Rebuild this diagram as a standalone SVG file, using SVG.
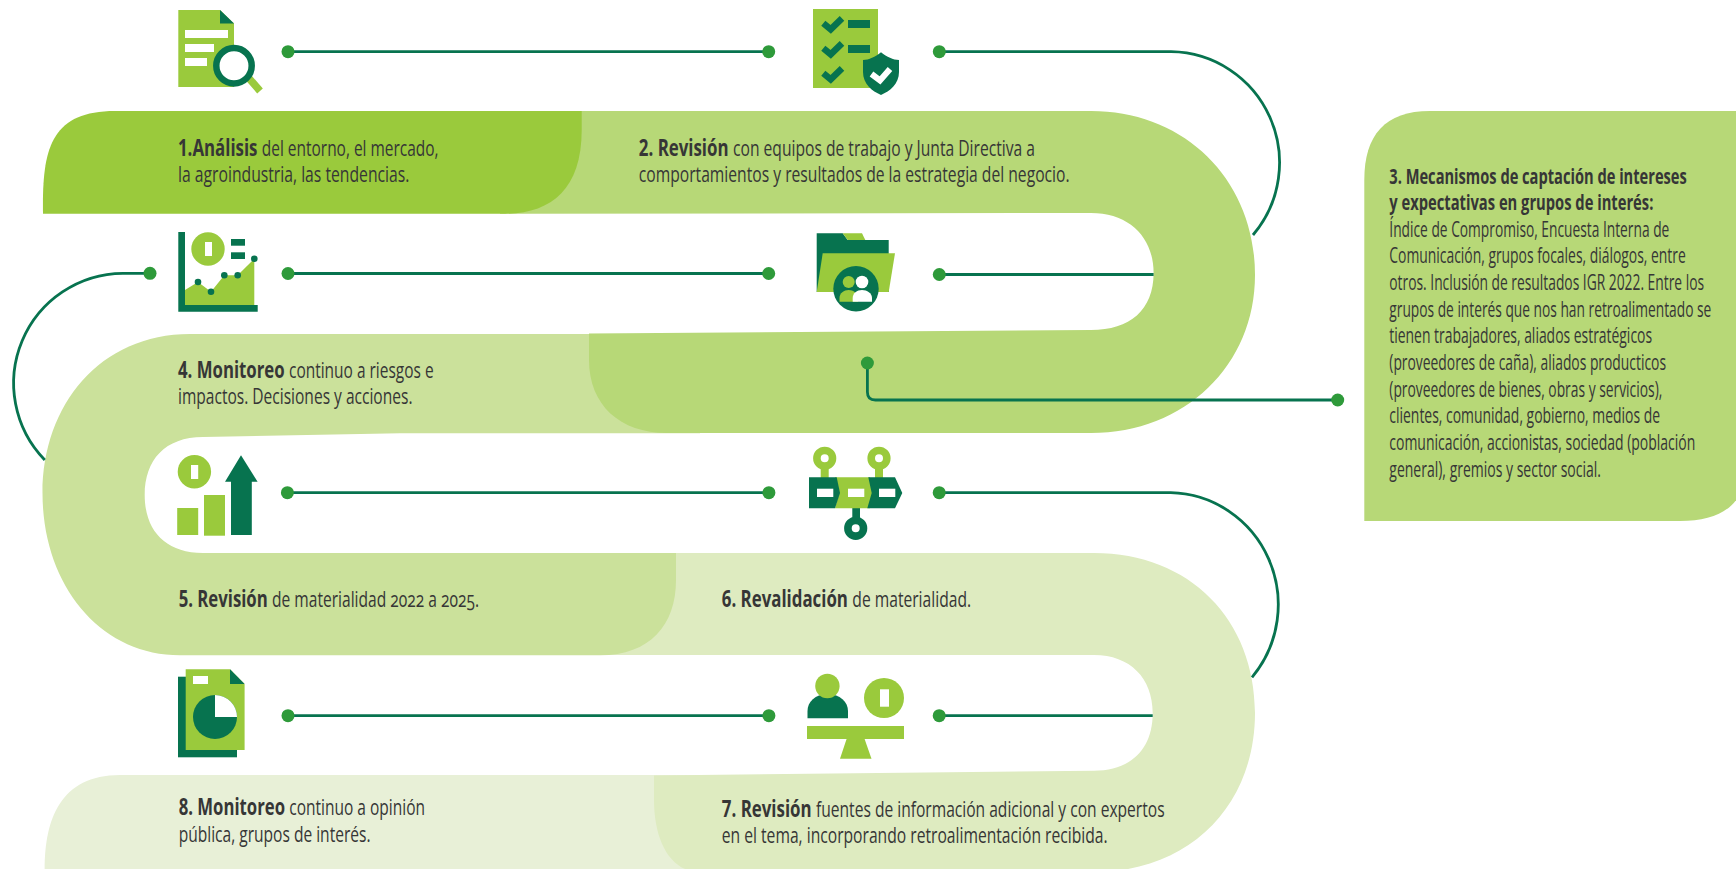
<svg xmlns="http://www.w3.org/2000/svg" width="1736" height="869" viewBox="0 0 1736 869">
<style>
.t{font-family:"Open Sans","Noto Sans","Liberation Sans",sans-serif;font-size:22.5px;fill:#363636;transform:scale(.72,1);transform-origin:0 0}
.p{font-size:21px}
.b{font-weight:700}
.o{font-variant-numeric:oldstyle-nums}
.c{fill:none;stroke:#07734f;stroke-width:2.8}
.d{fill:#2e9a3a}
.lg{fill:#9aca3c}
.dg{fill:#07734f}
.w{fill:#fff}
</style>
<rect width="1736" height="869" fill="#fff"/>
<g id="bands">
<path id="band8" fill="#e8f0d7" d="M44.6,869C44.6,820 60,775 120,775H700V869Z"/>
<path id="band6" fill="#deebc0" d="M590,553H1094C1190,553 1255,620 1255,713C1255,805 1190,872 1094,872H700C670,872 654,840 654,800V775.5L1094,770.7C1130,770.7 1152.7,750 1152.7,713C1152.7,678 1130,655 1094,655H590Z"/>
<path id="band4" fill="#cbe19b" d="M700,334H190C100,334 42.5,405 42.5,493C42.5,585 100,655.3 180,655.3H600C650,655.3 676,625 676,580V553H203C165,553 144.7,530 144.7,495C144.7,460 165,437 203,437L400,433.3H700Z"/>
<path id="band2" fill="#b7d877" d="M500,111H1091C1185,111 1255,180 1255,275C1255,365 1185,433 1091,433H667C620,433 589,405 589,360V333.5L1091,330C1130,330 1153.6,310 1153.6,273C1153.6,238 1130,213 1091,213L500,213.7Z"/>
<path id="band1" class="lg" d="M43,213.7C42,150 50,111 115,111H581.7V130C581.7,190 550,213.7 505,213.7Z"/>
</g>
<g id="connectors">
<path class="c" d="M288,51.7H768.7"/>
<path class="c" d="M939.3,51.7H1171A110,111 0 0 1 1253,235"/>
<path class="c" d="M288,273.5H768.7"/>
<path class="c" d="M150,273.3H123A110,110 0 0 0 44.8,460"/>
<path class="c" d="M939.3,274.5H1153.6"/>
<path class="c" d="M867.4,363V392Q867.4,400 875.4,400H1337.7"/>
<path class="c" d="M287.4,492.7H768.9"/>
<path class="c" d="M939.2,492.7H1170.7A110,112 0 0 1 1252,677.3"/>
<path class="c" d="M288,715.7H768.9"/>
<path class="c" d="M939.2,715.7H1152.7"/>
<circle class="d" cx="288" cy="51.7" r="6.5"/><circle class="d" cx="768.7" cy="51.7" r="6.5"/><circle class="d" cx="939.3" cy="51.7" r="6.5"/>
<circle class="d" cx="150" cy="273.3" r="6.5"/><circle class="d" cx="288" cy="273.5" r="6.5"/><circle class="d" cx="768.7" cy="273.5" r="6.5"/><circle class="d" cx="939.3" cy="274.5" r="6.5"/>
<circle class="d" cx="867.4" cy="363" r="6.5"/><circle class="d" cx="1337.7" cy="400" r="6.5"/>
<circle class="d" cx="287.4" cy="492.7" r="6.5"/><circle class="d" cx="768.9" cy="492.7" r="6.5"/><circle class="d" cx="939.2" cy="492.7" r="6.5"/>
<circle class="d" cx="288" cy="715.7" r="6.5"/><circle class="d" cx="768.9" cy="715.7" r="6.5"/><circle class="d" cx="939.2" cy="715.7" r="6.5"/>
</g>
<g id="node1">
<path class="lg" d="M178.3,10H220L234,23.5V87H178.3Z"/>
<path class="dg" d="M220,10L234,23.5H220Z"/>
<rect class="w" x="185" y="30" width="43" height="8"/><rect class="w" x="185" y="44" width="29" height="8"/><rect class="w" x="185" y="58" width="22" height="8"/>
<path d="M247,76L260,91" stroke="#9aca3c" stroke-width="7.5" fill="none"/>
<circle cx="234" cy="65.7" r="17.7" fill="#fff" stroke="#07734f" stroke-width="6.5"/>
<text class="t" y="156"><tspan class="b" x="247.2" textLength="116.4" lengthAdjust="spacingAndGlyphs">1.Análisis </tspan><tspan x="363.6" textLength="245.6" lengthAdjust="spacingAndGlyphs">del entorno, el mercado,</tspan></text>
<text class="t" x="247.2" y="182" textLength="321.5" lengthAdjust="spacingAndGlyphs">la agroindustria, las tendencias.</text>
</g>
<g id="node2">
<rect class="lg" x="813" y="9" width="65" height="79"/>
<g fill="none" stroke="#07734f" stroke-width="6.5"><path d="M823.3,23.3L830.7,29.3L842,18.3"/><path d="M823.3,48.3L830.7,54.3L842,43.3"/><path d="M823.3,73.3L830.7,79.3L842,68.3"/></g>
<rect class="dg" x="848" y="20" width="22" height="8"/><rect class="dg" x="848" y="45" width="22" height="8"/>
<path class="dg" d="M881,52.3C875,57 869,60 863,60V72C863,84 872,91 881,95C890,91 899,84 899,72V60C893,60 887,57 881,52.3Z"/>
<path d="M871.5,74L880,80.5L890,69" fill="none" stroke="#fff" stroke-width="6"/>
<text class="t" y="156"><tspan class="b" x="887.2" textLength="130.8" lengthAdjust="spacingAndGlyphs">2. Revisión </tspan><tspan x="1018.1" textLength="419.4" lengthAdjust="spacingAndGlyphs">con equipos de trabajo y Junta Directiva a</tspan></text>
<text class="t" x="887.2" y="182" textLength="598.3" lengthAdjust="spacingAndGlyphs">comportamientos y resultados de la estrategia del negocio.</text>
</g>
<g id="node3">
<path fill="#b7d877" d="M1364.3,521V180C1364.3,135 1385,111 1430,111H1745V470C1745,505 1720,521 1680,521Z"/>
<text class="t p b" x="1929.6" y="184" textLength="413.1" lengthAdjust="spacingAndGlyphs">3. Mecanismos de captación de intereses</text>
<text class="t p b" x="1929.6" y="210" textLength="366.7" lengthAdjust="spacingAndGlyphs">y expectativas en grupos de interés:</text>
<text class="t p" x="1929.6" y="237" textLength="388.9" lengthAdjust="spacingAndGlyphs">Índice de Compromiso, Encuesta Interna de</text>
<text class="t p" x="1929.6" y="263.5" textLength="411.7" lengthAdjust="spacingAndGlyphs">Comunicación, grupos focales, diálogos, entre</text>
<text class="t p" x="1929.6" y="290" textLength="437.1" lengthAdjust="spacingAndGlyphs">otros. Inclusión de resultados IGR 2022. Entre los</text>
<text class="t p" x="1929.6" y="316.7" textLength="447.2" lengthAdjust="spacingAndGlyphs">grupos de interés que nos han retroalimentado se</text>
<text class="t p" x="1929.6" y="343.3" textLength="364.9" lengthAdjust="spacingAndGlyphs">tienen trabajadores, aliados estratégicos</text>
<text class="t p" x="1929.6" y="370" textLength="384.3" lengthAdjust="spacingAndGlyphs">(proveedores de caña), aliados producticos</text>
<text class="t p" x="1929.6" y="396.7" textLength="379.2" lengthAdjust="spacingAndGlyphs">(proveedores de bienes, obras y servicios),</text>
<text class="t p" x="1929.6" y="423.3" textLength="376" lengthAdjust="spacingAndGlyphs">clientes, comunidad, gobierno, medios de</text>
<text class="t p" x="1929.6" y="450" textLength="425" lengthAdjust="spacingAndGlyphs">comunicación, accionistas, sociedad (población</text>
<text class="t p" x="1929.6" y="476.7" textLength="294" lengthAdjust="spacingAndGlyphs">general), gremios y sector social.</text>
</g>
<g id="node4">
<path class="lg" d="M185,290L198,282L211,291.7L224.3,275.3H237.7L254.3,258.7V305H185Z"/>
<path class="dg" d="M178.3,232H185V305H257.7V311.7H178.3Z"/>
<circle class="lg" cx="208" cy="249" r="16.7"/><rect class="w" x="205" y="242" width="7" height="14"/>
<rect class="dg" x="231" y="239" width="14" height="6.7"/><rect class="dg" x="231" y="252.3" width="14" height="6.7"/>
<g class="dg"><circle cx="198" cy="282" r="3.3"/><circle cx="211" cy="291.7" r="3.3"/><circle cx="224.3" cy="275.3" r="3.3"/><circle cx="237.7" cy="275.3" r="3.3"/><circle cx="254.3" cy="258.7" r="3.3"/></g>
<text class="t" y="377.7"><tspan class="b" x="247.2" textLength="154.2" lengthAdjust="spacingAndGlyphs">4. Monitoreo </tspan><tspan x="401.4" textLength="200.8" lengthAdjust="spacingAndGlyphs">continuo a riesgos e</tspan></text>
<text class="t" x="247.2" y="404.3" textLength="325.7" lengthAdjust="spacingAndGlyphs">impactos. Decisiones y acciones.</text>
</g>
<g id="node4b">
<path class="dg" d="M816.7,292V233.3H842.7L847.7,240H888.7V292Z"/>
<path class="lg" d="M842.7,233.3H862L865.3,240H847.7Z"/>
<path class="lg" d="M822.7,253.3H895L888.7,292H816.7Z"/>
<circle class="dg" cx="856" cy="288.7" r="22.7"/>
<circle class="lg" cx="848.7" cy="282" r="6"/>
<path class="lg" d="M839.5,301.7V298C839.5,293 844,290 848.7,290C853,290 858,293 858,298V301.7Z"/>
<circle class="w" cx="862" cy="282" r="6.3"/>
<path class="w" d="M852.7,301.7V298C852.7,293 857,290 862,290C867,290 872,293 872,298V301.7Z"/>
</g>
<g id="node5">
<circle class="lg" cx="194.4" cy="471.7" r="16.7"/><rect class="w" x="191" y="465" width="7.2" height="14"/>
<rect class="lg" x="177.2" y="508" width="21" height="27"/><rect class="lg" x="204" y="495" width="21" height="40.7"/>
<path class="dg" d="M241,455.3L257.6,481.7H251.8V535H231V481.7H225Z"/>
<text class="t" y="606.7"><tspan class="b" x="248.1" textLength="129.7" lengthAdjust="spacingAndGlyphs">5. Revisión </tspan><tspan class="o" x="377.8" textLength="287.5" lengthAdjust="spacingAndGlyphs">de materialidad 2022 a 2025.</tspan></text>
</g>
<g id="node6">
<path class="lg" d="M820.7,464H828.7V480H820.7ZM875,464H883V480H875Z"/>
<circle cx="824.7" cy="458.3" r="7.8" fill="#fff" stroke="#9aca3c" stroke-width="7.6"/>
<circle cx="879" cy="458.3" r="7.8" fill="#fff" stroke="#9aca3c" stroke-width="7.6"/>
<rect class="dg" x="852.3" y="507" width="7.7" height="16"/>
<circle cx="855.7" cy="528.3" r="7.8" fill="#fff" stroke="#07734f" stroke-width="7.6"/>
<path class="lg" d="M835,477.3H870L873.5,493L870,508.3H835L839,493Z"/>
<path class="dg" d="M809,477.3H836.7L840,493L835,508.3H809Z"/>
<path class="dg" d="M868.3,477.3H895L902.3,493L895,508.3H867.3L871.7,493Z"/>
<rect class="w" x="817" y="488.7" width="16.3" height="8.3"/><rect class="w" x="848" y="488.7" width="16.3" height="8.3"/><rect class="w" x="879" y="488.7" width="16.3" height="8.3"/>
<text class="t" y="606.7"><tspan class="b" x="1002.5" textLength="181.3" lengthAdjust="spacingAndGlyphs">6. Revalidación </tspan><tspan x="1183.8" textLength="164.9" lengthAdjust="spacingAndGlyphs">de materialidad.</tspan></text>
</g>
<g id="node7">
<path class="dg" d="M807.5,718.3V711C807.5,702 815,694 827.7,694C840,694 848,702 848,711V718.3Z"/>
<circle class="lg" cx="827.4" cy="686" r="12.2"/>
<circle class="lg" cx="884" cy="698" r="20"/><rect class="w" x="880" y="689.3" width="9" height="17.4"/>
<rect class="lg" x="807" y="726" width="97" height="13"/>
<path class="lg" d="M846.6,739H864.6L871.5,758.7H840Z"/>
<text class="t" y="816.7"><tspan class="b" x="1002.5" textLength="130.8" lengthAdjust="spacingAndGlyphs">7. Revisión </tspan><tspan x="1133.3" textLength="484.2" lengthAdjust="spacingAndGlyphs">fuentes de información adicional y con expertos</tspan></text>
<text class="t" x="1002.5" y="842.7" textLength="535.8" lengthAdjust="spacingAndGlyphs">en el tema, incorporando retroalimentación recibida.</text>
</g>
<g id="node8">
<rect class="dg" x="178" y="676.7" width="59" height="80.6"/>
<path class="lg" d="M185.7,669.3H230L244.6,684V750H185.7Z"/>
<path class="dg" d="M230,669.3L244.6,684H230Z"/>
<rect class="w" x="193" y="676" width="15" height="8"/>
<circle class="dg" cx="215" cy="717" r="22"/>
<path class="w" d="M215,717V695A22,22 0 0 1 237,717Z"/>
<text class="t" y="815"><tspan class="b" x="248.1" textLength="153.8" lengthAdjust="spacingAndGlyphs">8. Monitoreo </tspan><tspan x="401.8" textLength="188.5" lengthAdjust="spacingAndGlyphs">continuo a opinión</tspan></text>
<text class="t" x="248.1" y="841.7" textLength="266.5" lengthAdjust="spacingAndGlyphs">pública, grupos de interés.</text>
</g>
</svg>
